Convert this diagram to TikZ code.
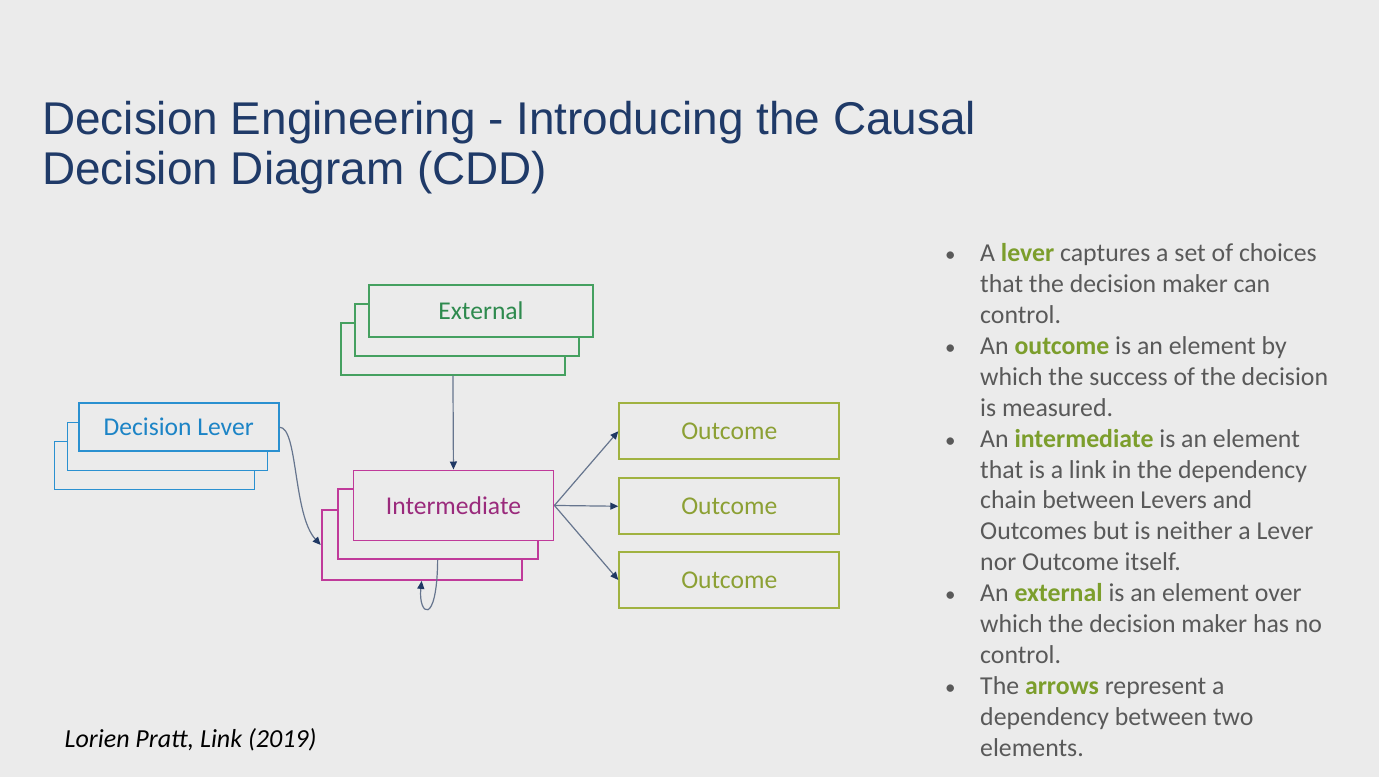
\documentclass[tikz,border=0pt]{standalone}
\usepackage{fontspec}
\setmainfont{Carlito}
\newfontfamily\titlefont{Liberation Sans}
\usetikzlibrary{arrows.meta}
\definecolor{bg}{HTML}{EBEBEB}
\definecolor{titlecol}{HTML}{1F3A68}
\definecolor{levercol}{HTML}{2A90D0}
\definecolor{levertext}{HTML}{1C84C6}
\definecolor{extcol}{HTML}{45A060}
\definecolor{exttext}{HTML}{2E8A4E}
\definecolor{intcol}{HTML}{C03A9A}
\definecolor{inttext}{HTML}{9A2A7C}
\definecolor{outcol}{HTML}{A0B240}
\definecolor{outtext}{HTML}{8CA034}
\definecolor{bodytext}{HTML}{595959}
\definecolor{keyword}{HTML}{7C9E2C}
\definecolor{linecol}{HTML}{66758E}
\definecolor{headcol}{HTML}{1F3864}
\tikzset{
  box/.style={draw, fill=bg, line width=1.9pt, inner sep=0pt, anchor=north west, font=\fontsize{25.6}{30}\selectfont},
  leverbox/.style={box, draw=levercol, text=levertext, minimum width=200pt, minimum height=48pt},
  extbox/.style={box, draw=extcol, text=exttext, minimum width=224pt, minimum height=52pt},
  intbox/.style={box, draw=intcol, text=inttext, minimum width=200pt, minimum height=70pt},
  outbox/.style={box, draw=outcol, text=outtext, minimum width=220pt, minimum height=56pt},
  conn/.style={draw=linecol, line width=1.2pt, -{Triangle[length=8pt,width=7pt,color=headcol]}},
  bodyline/.style={anchor=base west, inner sep=0pt, text=bodytext, font=\fontsize{25.8}{30}\selectfont},
  bul/.style={anchor=base west, inner sep=0pt, text=bodytext, font=\fontsize{21}{24}\selectfont},
  titleline/.style={anchor=base west, inner sep=0pt, text=titlecol, font=\titlefont\fontsize{45.9}{54}\selectfont}
}
\newcommand{\kw}[1]{\textcolor{keyword}{\textbf{#1}}}
\begin{document}
\begin{tikzpicture}[x=1pt,y=-1pt]
\fill[bg] (0,0) rectangle (1379,777);
\useasboundingbox (0,0) rectangle (1379,777);
% title
\node[titleline] (t1) at (42,134.3) {Decision Engineering - Introducing the Causal};
\node[titleline] (t2) at (42,184.3) {Decision Diagram (CDD)};
% lever stack
\node[leverbox] (lever3) at (53.5,440.5) {};
\node[leverbox] (lever2) at (66.5,421.5) {};
\node[leverbox] (lever) at (77.7,402.3) {Decision Lever};
% external stack
\node[extbox] (ext3) at (340,321.7) {};
\node[extbox] (ext2) at (353.7,302.7) {};
\node[extbox] (ext) at (368,284) {External};
% intermediate stack
\node[intbox] (int3) at (320.7,509) {};
\node[intbox] (int2) at (336.7,488) {};
\node[intbox] (int) at (352.5,469.5) {Intermediate};
% outcomes
\node[outbox] (out1) at (618.3,402.3) {Outcome};
\node[outbox] (out2) at (618.3,477.3) {Outcome};
\node[outbox] (out3) at (618.3,551) {Outcome};
% connectors
\draw[conn] (ext3.south) -- (int.north);
\draw[conn] (int.east) -- (out1.west);
\draw[conn] (int.east) -- (out2.west);
\draw[conn] (int.east) -- (out3.west);
\draw[conn] (lever.east) .. controls (298,427) and (293,515) .. (int3.west);
\draw[conn] (int2.south) .. controls (437,628) and (418,615) .. (int3.south);
% bullets
\foreach \y/\n in {261.7/b1,354.4/b2,447.1/b3,601.6/b4,694.3/b5}{
  \node[bul] (\n) at (945,\y) {\textbullet};
}
\node[bodyline] (l1) at (980,261.7) {A \kw{lever} captures a set of choices};
\node[bodyline] (l2) at (980,292.6) {that the decision maker can};
\node[bodyline] (l3) at (980,323.5) {control.};
\node[bodyline] (l4) at (980,354.4) {An \kw{outcome} is an element by};
\node[bodyline] (l5) at (980,385.3) {which the success of the decision};
\node[bodyline] (l6) at (980,416.2) {is measured.};
\node[bodyline] (l7) at (980,447.1) {An \kw{intermediate} is an element};
\node[bodyline] (l8) at (980,478.0) {that is a link in the dependency};
\node[bodyline] (l9) at (980,508.9) {chain between Levers and};
\node[bodyline] (l10) at (980,539.8) {Outcomes but is neither a Lever};
\node[bodyline] (l11) at (980,570.7) {nor Outcome itself.};
\node[bodyline] (l12) at (980,601.6) {An \kw{external} is an element over};
\node[bodyline] (l13) at (980,632.5) {which the decision maker has no};
\node[bodyline] (l14) at (980,663.4) {control.};
\node[bodyline] (l15) at (980,694.3) {The \kw{arrows} represent a};
\node[bodyline] (l16) at (980,725.2) {dependency between two};
\node[bodyline] (l17) at (980,756.1) {elements.};
% footer
\node[anchor=base west, inner sep=0pt, font=\itshape\fontsize{26}{30}\selectfont] (foot) at (64.5,747.3) {Lorien Pratt, Link (2019)};
\end{tikzpicture}
\end{document}
